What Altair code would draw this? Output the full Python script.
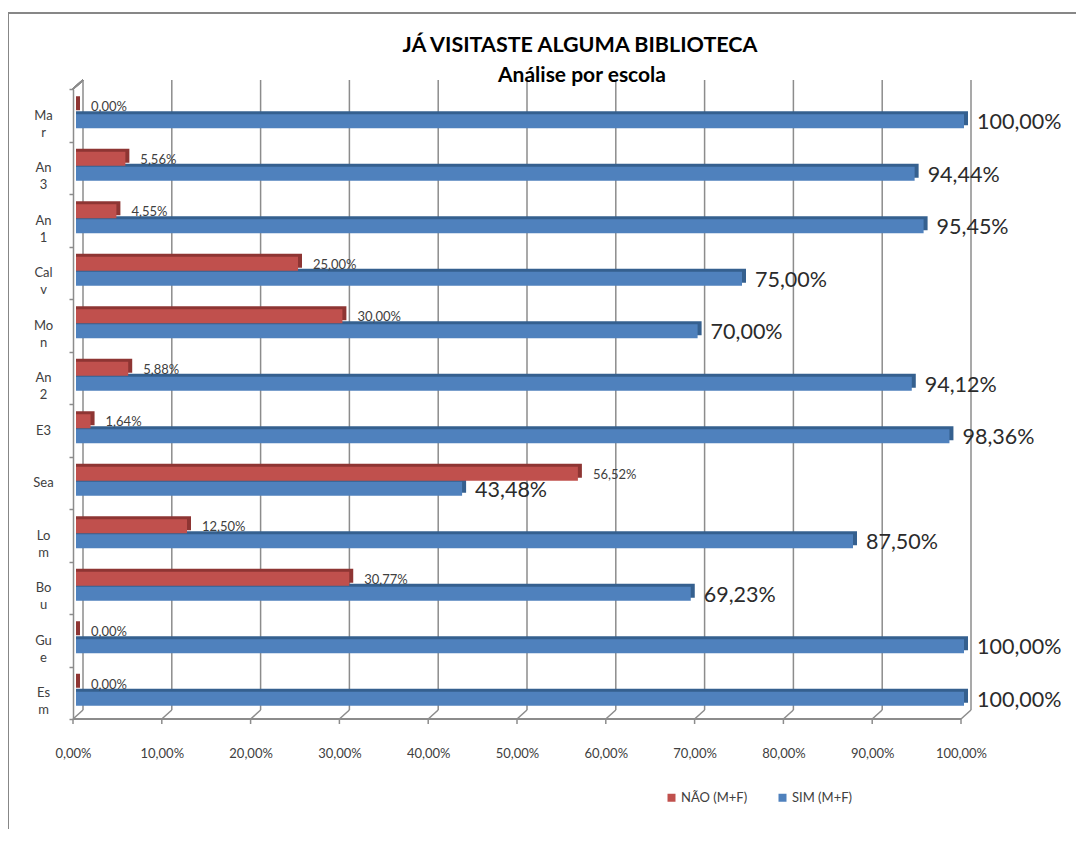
import altair as alt
import pandas as pd

# ---- data ----
title_text = "JÁ VISITASTE ALGUMA BIBLIOTECA"
subtitle_text = "Análise por escola"
schools = ["Ma|r", "An|3", "An|1", "Cal|v", "Mo|n", "An|2", "E3", "Sea", "Lo|m", "Bo|u", "Gu|e", "Es|m"]
nao = [0.00, 5.56, 4.55, 25.00, 30.00, 5.88, 1.64, 56.52, 12.50, 30.77, 0.00, 0.00]
sim = [100.00, 94.44, 95.45, 75.00, 70.00, 94.12, 98.36, 43.48, 87.50, 69.23, 100.00, 100.00]
series_names = ["NÃO (M+F)", "SIM (M+F)"]
ticks = [0, 10, 20, 30, 40, 50, 60, 70, 80, 90, 100]

def fmt(v):
    return f"{v:.2f}".replace(".", ",") + "%"

rows = []
for s, n, y in zip(schools, nao, sim):
    rows.append({"school": s, "series": series_names[0], "value": n, "label": fmt(n)})
    rows.append({"school": s, "series": series_names[1], "value": y, "label": fmt(y)})
df = pd.DataFrame(rows)
tick_df = pd.DataFrame({"tick": ticks})
title_df = pd.DataFrame({"t": [title_text], "s": [subtitle_text]})

W, H = 888, 630
FONT = "Lato"
GRID = "#8C8C8C"
RED, RED_D = "#C0504D", "#8E3533"
BLUE, BLUE_D = "#4F81BD", "#35608F"

xscale = alt.Scale(domain=[0, 100], nice=False, zero=True)
yscale = alt.Scale(domain=schools, paddingInner=0, paddingOuter=0)

xenc = alt.X(
    "value:Q", scale=xscale, title=None,
    axis=alt.Axis(
        values=ticks, domain=False, ticks=False, grid=False, labelPadding=28,
        labelOffset=-3, labelFlush=False, labelFont=FONT, labelFontSize=13,
        labelColor="#404040",
        labelExpr="replace(format(datum.value, '.2f'), '.', ',') + '%'",
    ),
)
yenc = alt.Y(
    "school:N", scale=yscale, sort=schools, title=None,
    axis=alt.Axis(
        offset=3, domainColor=GRID, domainWidth=1.5, tickColor=GRID, tickWidth=1.5,
        tickSize=4, tickBand="extent", labelPadding=26, labelAlign="center",
        labelBaseline="middle", labelFont=FONT, labelFontSize=13, labelColor="#404040",
        labelLineHeight=17, labelExpr="split(datum.label, '|')", grid=False,
    ),
)

color = alt.Color(
    "series:N",
    scale=alt.Scale(domain=series_names, range=[RED, BLUE]),
    legend=alt.Legend(
        orient="none", legendX=589, legendY=702, direction="horizontal", title=None,
        symbolType="square", symbolSize=64, symbolStrokeWidth=0, labelFont=FONT,
        labelFontSize=13, labelColor="#404040", columnPadding=28, labelOffset=3,
    ),
)

base = alt.Chart(df)
red = base.transform_filter(alt.datum.series == series_names[0])
blue = base.transform_filter(alt.datum.series == series_names[1])
tb = alt.Chart(tick_df)
ttl = alt.Chart(title_df)

# back wall gridlines and 3D frame
grid = tb.mark_rule(color=GRID, strokeWidth=1.5, xOffset=7).encode(
    x=alt.X("tick:Q", scale=xscale), y=alt.value(-9), y2=alt.value(621))
floor = tb.mark_rule(color=GRID, strokeWidth=1.5, xOffset=-3, x2Offset=7).encode(
    x=alt.X("tick:Q", scale=xscale), x2="tick:Q", y=alt.value(630), y2=alt.value(621))
xticks = tb.mark_rule(color=GRID, strokeWidth=1.5, xOffset=-3).encode(
    x=alt.X("tick:Q", scale=xscale), y=alt.value(630), y2=alt.value(635))
baseline = tb.mark_rule(color=GRID, strokeWidth=1.5, xOffset=-3, x2Offset=-3).encode(
    x=alt.datum(0, scale=xscale), x2=alt.datum(100), y=alt.value(630))
topdiag = tb.mark_rule(color=GRID, strokeWidth=1.5, xOffset=-3, x2Offset=7).encode(
    x=alt.datum(0, scale=xscale), x2=alt.datum(0), y=alt.value(0), y2=alt.value(-9))
frame_top = tb.mark_rule(color="#878787", strokeWidth=2).encode(
    x=alt.value(-68), x2=alt.value(1100), y=alt.value(-76))
frame_left = tb.mark_rule(color="#878787", strokeWidth=2).encode(
    x=alt.value(-68), y=alt.value(-76), y2=alt.value(900))

blue_depth = blue.mark_bar(size=14, yOffset=3, xOffset=4, color=BLUE_D).encode(
    x=xenc, x2=alt.datum(0), y=yenc)
blue_face = blue.mark_bar(size=14, yOffset=6).encode(
    x=xenc, x2=alt.datum(0), y=yenc, color=color)
red_depth = red.mark_bar(size=14, yOffset=-12, xOffset=4, color=RED_D).encode(
    x=xenc, x2=alt.datum(0), y=yenc)
red_face = red.mark_bar(size=14, yOffset=-9).encode(
    x=xenc, x2=alt.datum(0), y=yenc, color=color)

red_text = red.mark_text(align="left", baseline="middle", dx=15, dy=-8,
                         font=FONT, fontSize=13, color="#404040").encode(
    x=xenc, y=yenc, text="label:N")
blue_text = blue.mark_text(align="left", baseline="middle", dx=13, dy=8,
                           font=FONT, fontSize=21.5, color="#2b2b2b").encode(
    x=xenc, y=yenc, text="label:N")

title_mark = ttl.mark_text(align="center", baseline="alphabetic", font=FONT,
                           fontSize=21.5, fontWeight="bold", color="#000000").encode(
    x=alt.value(504), y=alt.value(-37), text="t:N")
subtitle_mark = ttl.mark_text(align="center", baseline="alphabetic", font=FONT,
                              fontSize=21, fontWeight="bold", color="#000000").encode(
    x=alt.value(506), y=alt.value(-7), text="s:N")

chart = alt.layer(
    frame_top, frame_left, grid, floor, xticks, baseline, topdiag,
    blue_depth, blue_face, red_depth, red_face, red_text, blue_text,
    title_mark, subtitle_mark,
).properties(
    width=W, height=H,
    autosize=alt.AutoSizeParams(type="none"),
    padding={"left": 68, "top": 81, "right": 112, "bottom": 110},
    background="white",
).configure_view(stroke=None)

chart.save("out.html", embed_options={"renderer": "svg", "actions": False})
